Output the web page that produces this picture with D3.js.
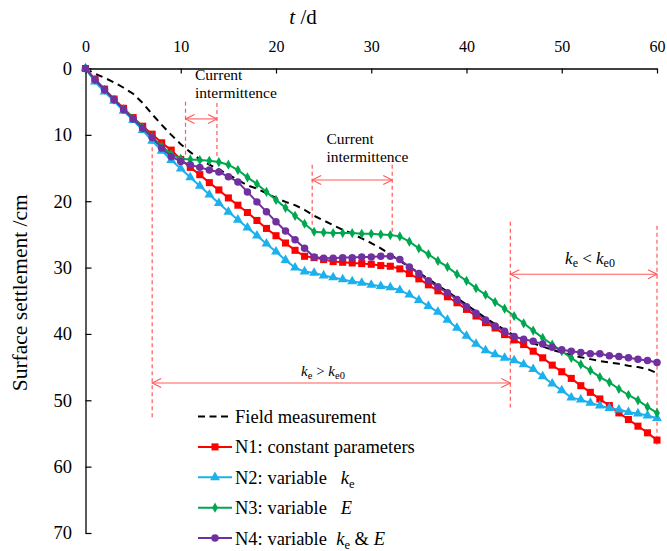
<!DOCTYPE html>
<html>
<head>
<meta charset="utf-8">
<script src="https://cdn.jsdelivr.net/npm/d3@7"></script>
<style>
  html, body { margin: 0; padding: 0; background: #fff; }
</style>
</head>
<body>
<svg id="chart" width="667" height="551"></svg>
<script>
const SERIF = '"Liberation Serif", "Times New Roman", Times, serif';

// Time axis (days) and tick values
const days = d3.range(0, 61);
const xTicks = [0, 10, 20, 30, 40, 50, 60];
const yTicks = [0, 10, 20, 30, 40, 50, 60, 70];

// Surface settlement (cm), one value per day
const field = [0, 0.8, 1.4, 2.1, 2.9, 3.8, 5.2, 6.9, 8.5, 10.0,
  11.4, 12.6, 13.7, 14.5, 15.2, 16.0, 16.8, 17.6, 18.1, 18.8,
  19.5, 20.1, 20.6, 21.3, 22.2, 22.9, 23.6, 24.3, 24.9, 25.6,
  26.3, 27.1, 28.0, 29.0, 29.9, 30.8, 31.7, 32.7, 33.6, 34.6,
  35.6, 36.6, 37.6, 38.5, 39.4, 40.2, 40.9, 41.4, 41.9, 42.4,
  42.8, 43.2, 43.5, 43.8, 44.1, 44.3, 44.5, 44.8, 45.0, 45.3, 45.9];

const n1 = [0, 1.6, 3.1, 4.6, 6.0, 7.4, 8.7, 9.9, 11.2, 12.3,
  13.7, 14.9, 16.0, 17.2, 18.3, 19.5, 20.6, 21.7, 22.9, 24.1,
  25.2, 26.3, 27.4, 28.3, 28.5, 28.8, 29.1, 29.2, 29.3, 29.4,
  29.5, 29.7, 29.8, 30.2, 30.9, 31.7, 32.6, 33.5, 34.4, 35.3,
  36.3, 37.3, 38.3, 39.1, 40.1, 40.9, 41.6, 42.6, 43.6, 44.7,
  45.7, 46.7, 47.8, 48.8, 49.8, 50.8, 51.9, 52.9, 53.9, 54.9, 56.0];

const n2 = [0, 2.0, 3.5, 4.9, 6.4, 7.8, 9.3, 10.9, 12.4, 13.8,
  15.1, 16.4, 17.7, 19.0, 20.3, 21.6, 22.8, 24.0, 25.2, 26.4,
  27.6, 28.9, 30.0, 30.6, 30.8, 31.2, 31.5, 31.8, 32.1, 32.3,
  32.6, 32.8, 33.0, 33.4, 34.1, 34.9, 35.8, 36.7, 37.9, 39.1,
  40.3, 41.5, 42.5, 43.1, 43.6, 44.0, 44.6, 45.3, 46.4, 47.5,
  48.5, 49.6, 49.9, 50.4, 50.8, 51.2, 51.4, 51.8, 52.0, 52.3, 52.7];

const n3 = [0, 1.7, 3.2, 4.7, 6.1, 7.5, 8.9, 10.3, 11.7, 12.9,
  13.6, 13.7, 13.8, 13.9, 14.1, 14.5, 15.3, 16.4, 17.4, 18.6,
  19.8, 21.0, 22.2, 23.4, 24.6, 24.7, 24.8, 24.8, 24.8, 24.9,
  24.9, 25.0, 25.1, 25.3, 26.1, 27.1, 28.0, 29.0, 29.9, 31.0,
  32.0, 33.1, 34.1, 35.2, 36.2, 37.3, 38.4, 39.5, 40.6, 41.6,
  42.6, 43.6, 44.6, 45.5, 46.5, 47.3, 48.3, 49.2, 50.0, 51.0, 51.9];

const n4 = [0, 1.7, 3.2, 4.7, 6.2, 7.6, 9.0, 10.4, 12.0, 13.3,
  14.0, 14.5, 14.9, 15.3, 15.6, 16.3, 17.1, 18.6, 20.1, 21.6,
  23.1, 24.5, 25.8, 27.1, 28.4, 28.6, 28.6, 28.5, 28.5, 28.4,
  28.4, 28.3, 28.3, 28.8, 29.9, 30.9, 32.0, 32.9, 33.8, 34.8,
  35.9, 36.9, 37.9, 38.8, 39.6, 40.4, 40.8, 41.1, 41.5, 42.0,
  42.4, 42.6, 42.8, 43.0, 43.0, 43.3, 43.4, 43.6, 43.8, 44.0, 44.3];

// Current-intermittence periods and permeability stages (days)
const intermittence = [[10.5, 13.8], [23.8, 32.2]];
const keStages = [[7.0, 44.6], [44.6, 60]];

const svg = d3.select("#chart");
const x = d3.scaleLinear().domain([0, 60]).range([85.5, 657]);
const y = d3.scaleLinear().domain([0, 70]).range([68.5, 533]);

const RED = "#ff0000", BLUE = "#1cb0ec", GREEN = "#00a650", PURPLE = "#7030a0";
const GUIDE = "#ff5a5a";

function txt(sel) { return sel.style("font-family", SERIF).attr("fill", "#000"); }

// ---- axes ----
const xAxis = svg.append("g").attr("transform", `translate(0,${y(0)})`)
  .call(d3.axisTop(x).tickValues(xTicks).tickSizeInner(-5).tickSizeOuter(0).tickPadding(17));
const yAxis = svg.append("g").attr("transform", `translate(${x(0)},0)`)
  .call(d3.axisLeft(y).tickValues(yTicks).tickSizeInner(-6).tickSizeOuter(0).tickPadding(13.5));
[xAxis, yAxis].forEach(g => {
  g.select(".domain").attr("stroke", "#000").attr("stroke-width", 1.3);
  g.selectAll(".tick line").attr("stroke", "#000").attr("stroke-width", 1.2);
  txt(g.selectAll(".tick text"));
});
xAxis.selectAll(".tick text").style("font-size", "16px");
yAxis.selectAll(".tick text").style("font-size", "18.5px");

// axis titles
const tt = txt(svg.append("text")).attr("x", 303).attr("y", 24).attr("text-anchor", "middle")
  .style("font-size", "21px");
tt.append("tspan").style("font-style", "italic").text("t");
tt.append("tspan").text(" /d");

txt(svg.append("text"))
  .attr("transform", `translate(27,${(y(0) + y(70)) / 2 - 8}) rotate(-90)`)
  .attr("text-anchor", "middle").style("font-size", "21.5px")
  .text("Surface settlement /cm");

// ---- annotation guides ----
const defs = svg.append("defs");
defs.append("marker").attr("id", "arrS").attr("viewBox", "-1 -6 12 12")
  .attr("refX", 0).attr("refY", 0).attr("markerWidth", 12).attr("markerHeight", 12)
  .attr("markerUnits", "userSpaceOnUse").attr("orient", "auto")
  .append("path").attr("d", "M9,-4.5L0,0L9,4.5")
  .attr("fill", "none").attr("stroke", GUIDE).attr("stroke-width", 1.1);
defs.append("marker").attr("id", "arrE").attr("viewBox", "-11 -6 12 12")
  .attr("refX", 0).attr("refY", 0).attr("markerWidth", 12).attr("markerHeight", 12)
  .attr("markerUnits", "userSpaceOnUse").attr("orient", "auto")
  .append("path").attr("d", "M-9,-4.5L0,0L-9,4.5")
  .attr("fill", "none").attr("stroke", GUIDE).attr("stroke-width", 1.1);

const guides = svg.append("g");
function vGuide(t, c0, c1) {
  guides.append("line").attr("x1", x(t)).attr("x2", x(t)).attr("y1", y(c0)).attr("y2", y(c1))
    .attr("stroke", GUIDE).attr("stroke-width", 1.2).attr("stroke-dasharray", "4,3");
}
function hArrow(t0, t1, c) {
  guides.append("line").attr("x1", x(t0)).attr("x2", x(t1)).attr("y1", y(c)).attr("y2", y(c))
    .attr("stroke", GUIDE).attr("stroke-width", 1.1)
    .attr("marker-start", "url(#arrS)").attr("marker-end", "url(#arrE)");
}
vGuide(intermittence[0][0], 5.0, 13.0);
vGuide(intermittence[0][1], 5.2, 13.3);
hArrow(intermittence[0][0], intermittence[0][1], 7.6);
vGuide(intermittence[1][0], 14.5, 24.0);
vGuide(intermittence[1][1], 14.5, 24.6);
hArrow(intermittence[1][0], intermittence[1][1], 16.8);
vGuide(keStages[0][0], 10.8, 52.6);
vGuide(keStages[0][1], 23.1, 51.1);
vGuide(keStages[1][1], 23.7, 56.7);
hArrow(keStages[0][0], keStages[0][1], 47.4);
hArrow(keStages[1][0], keStages[1][1], 31.0);

function twoLine(px, y1, y2, size) {
  txt(svg.append("text")).attr("x", px).attr("y", y1).style("font-size", size).text("Current");
  txt(svg.append("text")).attr("x", px).attr("y", y2).style("font-size", size).text("intermittence");
}
twoLine(195, 80, 97.5, "15.5px");
twoLine(326.5, 143.5, 162, "15.5px");

function keLabel(cx, by, sym, size, sub) {
  const t = txt(svg.append("text")).attr("x", cx).attr("y", by).attr("text-anchor", "middle")
    .style("font-size", size);
  t.append("tspan").style("font-style", "italic").text("k");
  t.append("tspan").attr("dy", 3).style("font-size", sub).text("e");
  t.append("tspan").attr("dy", -3).text(" " + sym + " ");
  t.append("tspan").style("font-style", "italic").text("k");
  t.append("tspan").attr("dy", 3).style("font-size", sub).text("e0");
}
keLabel(323, 376, ">", "15px", "10.5px");
keLabel(590, 264, "<", "17px", "12px");

// ---- series ----
const line = d3.line().x((d, i) => x(days[i])).y(d => y(d));

svg.append("path").datum(field).attr("d", line).attr("fill", "none")
  .attr("stroke", "#000").attr("stroke-width", 2).attr("stroke-dasharray", "7,5");

const sq = d3.symbol().type(d3.symbolSquare).size(50)();
const tri = d3.symbol().type(d3.symbolTriangle).size(42)();
const dia = d3.symbol().type(d3.symbolDiamond).size(30)();
const cir = d3.symbol().type(d3.symbolCircle).size(44)();

const series = [
  { vals: n1, color: RED, shape: sq },
  { vals: n2, color: BLUE, shape: tri },
  { vals: n3, color: GREEN, shape: dia },
  { vals: n4, color: PURPLE, shape: cir }
];

series.forEach(s => {
  const g = svg.append("g");
  g.append("path").datum(s.vals).attr("d", line).attr("fill", "none")
    .attr("stroke", s.color).attr("stroke-width", 2);
  g.selectAll("path.m").data(s.vals).join("path").attr("class", "m")
    .attr("d", s.shape).attr("fill", s.color)
    .attr("transform", (d, i) => `translate(${x(days[i])},${y(d)})`);
});

// ---- legend ----
const legend = svg.append("g");
const lx0 = 198, lx1 = 232, ly0 = 416.5, ldy = 30.4;
const legendItems = [
  { color: "#000", dash: "7,4.5", shape: null },
  { color: RED, shape: sq },
  { color: BLUE, shape: tri },
  { color: GREEN, shape: dia },
  { color: PURPLE, shape: cir }
];
legendItems.forEach((it, i) => {
  const yy = ly0 + i * ldy;
  legend.append("line").attr("x1", lx0).attr("x2", lx1).attr("y1", yy).attr("y2", yy)
    .attr("stroke", it.color).attr("stroke-width", 2)
    .attr("stroke-dasharray", it.dash || null);
  if (it.shape) legend.append("path").attr("d", it.shape).attr("fill", it.color)
    .attr("transform", `translate(${(lx0 + lx1) / 2},${yy})`);
});
function legText(i) {
  return txt(legend.append("text")).attr("x", 235).attr("y", ly0 + i * ldy + 6.5)
    .style("font-size", "18.5px");
}
legText(0).text("Field measurement");
legText(1).text("N1: constant parameters");
let lt = legText(2);
lt.append("tspan").text("N2: variable\u00a0\u00a0\u00a0");
lt.append("tspan").style("font-style", "italic").text("k");
lt.append("tspan").attr("dy", 4).style("font-size", "12.5px").text("e");
lt = legText(3);
lt.append("tspan").text("N3: variable\u00a0\u00a0\u00a0");
lt.append("tspan").style("font-style", "italic").text("E");
lt = legText(4);
lt.append("tspan").text("N4: variable\u00a0\u00a0");
lt.append("tspan").style("font-style", "italic").text("k");
lt.append("tspan").attr("dy", 4).style("font-size", "12.5px").text("e");
lt.append("tspan").attr("dy", -4).text(" & ");
lt.append("tspan").style("font-style", "italic").text("E");
</script>
</body>
</html>
